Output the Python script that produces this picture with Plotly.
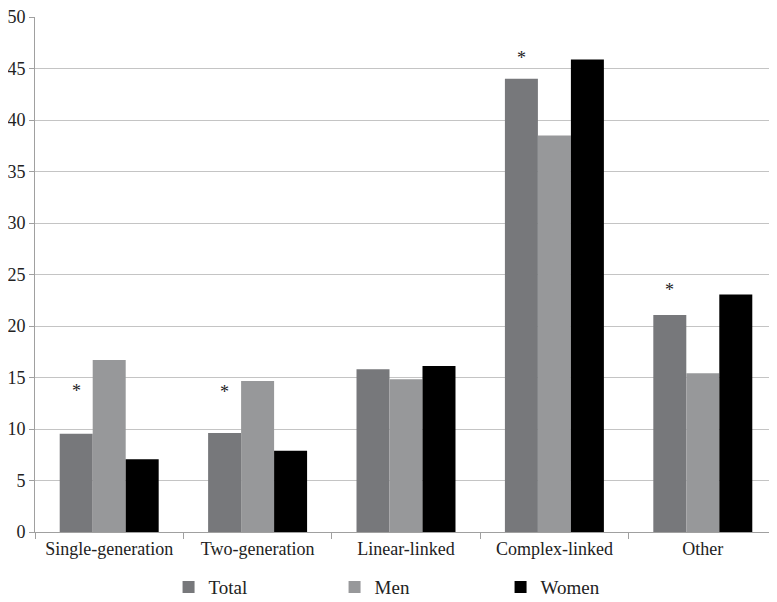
import plotly.graph_objects as go

categories = ["Single-generation", "Two-generation", "Linear-linked", "Complex-linked", "Other"]
total = [9.55, 9.62, 15.8, 44.0, 21.08]
men = [16.69, 14.65, 14.84, 38.5, 15.41]
women = [7.07, 7.9, 16.11, 45.88, 23.06]
# asterisks marking significant sex differences, drawn above the Total bar
star_y = [13.7, 13.6, None, 46.0, 23.5]

colors = {"Total": "#77787b", "Men": "#97989a", "Women": "#000000"}
font = "Liberation Serif"

fig = go.Figure()
for name, vals in [("Total", total), ("Men", men), ("Women", women)]:
    fig.add_trace(go.Bar(x=categories, y=vals, name=name,
                         marker=dict(color=colors[name], line=dict(width=0))))

for cat, sy in zip(categories, star_y):
    if sy is None:
        continue
    fig.add_annotation(x=cat, y=sy, text="*", showarrow=False, xshift=-33,
                       font=dict(family=font, size=18, color="#222"))

# page body adds an 8px margin, so the figure is 8px smaller than the window
fig.update_layout(
    width=769, height=594,
    margin=dict(l=27, r=0, t=9, b=70, autoexpand=False),
    plot_bgcolor="white", paper_bgcolor="white",
    barmode="group", bargap=0.333, bargroupgap=0,
    font=dict(family=font, size=18, color="#222"),
    showlegend=True,
    legend=dict(orientation="h", x=0.18, xanchor="left", y=-0.107, yanchor="middle",
                entrywidth=121, bgcolor="rgba(0,0,0,0)",
                font=dict(family=font, size=19, color="#222"),
                itemwidth=30, tracegroupgap=0),
)
fig.update_xaxes(type="category", showline=True, linecolor="#a0a0a0", linewidth=1,
                 ticks="outside", tickson="boundaries", ticklen=6, tickcolor="#a0a0a0",
                 showgrid=False, automargin=False,
                 tickfont=dict(family=font, size=18, color="#222"))
fig.update_yaxes(range=[0, 50], dtick=5, showline=True, linecolor="#a0a0a0", linewidth=1,
                 showgrid=True, gridcolor="#c4c4c4", gridwidth=1,
                 ticks="outside", ticklen=5, tickcolor="#a0a0a0",
                 zeroline=False, automargin=False, ticklabeloverflow="allow",
                 tickfont=dict(family=font, size=18, color="#222"))

fig.write_html("out.html")
